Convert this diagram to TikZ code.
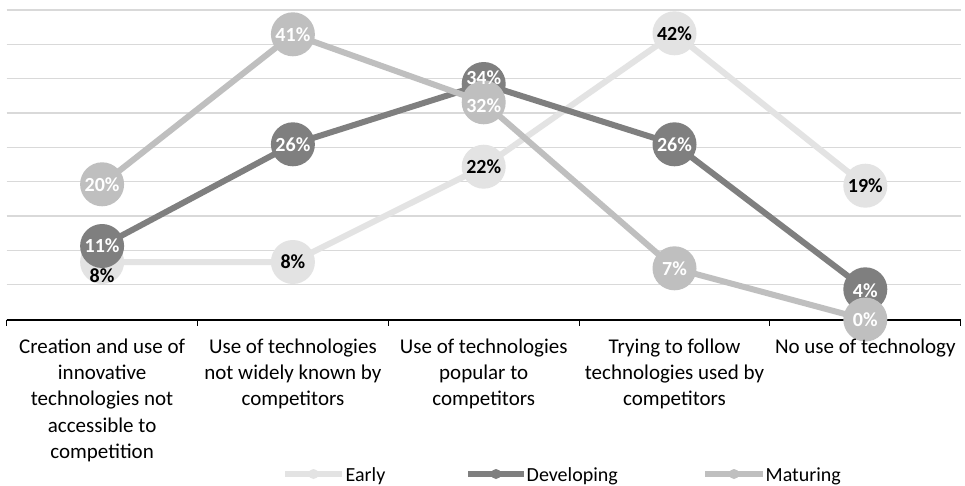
\documentclass[tikz,border=0pt]{standalone}
\usepackage{fontspec}
\setmainfont{Carlito}
\definecolor{earlyc}{HTML}{E3E3E3}
\definecolor{devc}{HTML}{7F7F7F}
\definecolor{matc}{HTML}{BFBFBF}
\definecolor{gridc}{HTML}{D9D9D9}
\begin{document}
\begin{tikzpicture}[x=1pt,y=-1pt,
  gridline/.style={draw=gridc, line width=1.3pt},
  axisline/.style={draw=black, line width=2pt},
  tickline/.style={draw=black, line width=1pt},
  ser/.style={line width=6pt, line join=round},
  dot/.style={circle, minimum size=44pt, inner sep=0pt},
  lab/.style={font=\bfseries\fontsize{20}{24}\selectfont, inner sep=0pt},
  cat/.style={font=\fontsize{21}{26.3}\selectfont, align=center, anchor=base, inner sep=0pt},
  leg/.style={font=\fontsize{20}{24}\selectfont, anchor=base west, inner sep=0pt},
  legdot/.style={circle, minimum size=10pt, inner sep=0pt}]
\useasboundingbox (0,0) rectangle (965,485);
\fill[white] (0,0) rectangle (965,485);
% gridlines
\foreach \yy in {10,44.33,78.67,113,147.33,181.67,216,250.33,284.67}
  \draw[gridline] (6.7,\yy) -- (960.7,\yy);
% axis
\coordinate (ax0) at (6.7,319.5);
\coordinate (ax1) at (960.7,319.5);
\draw[axisline] (ax0) -- (ax1);
\foreach \xx in {6.7,197.5,388.3,579.1,769.9,960.7}
  \draw[tickline] (\xx,319.5) -- (\xx,326);
% coordinates
\coordinate (e1) at (102.1,262);
\coordinate (e2) at (292.9,262);
\coordinate (e3) at (483.7,166.7);
\coordinate (e4) at (674.5,33.3);
\coordinate (e5) at (865.3,185.7);
\coordinate (d1) at (102.1,246);
\coordinate (d2) at (292.9,144.3);
\coordinate (d3) at (483.7,84);
\coordinate (d4) at (674.5,144.3);
\coordinate (d5) at (865.3,289.3);
\coordinate (m1) at (102.1,184.3);
\coordinate (m2) at (292.9,34.3);
\coordinate (m3) at (483.7,102.3);
\coordinate (m4) at (674.5,268.3);
\coordinate (m5) at (865.3,319.5);
% Early
\draw[ser, earlyc] (e1) -- (e2) -- (e3) -- (e4) -- (e5);
\foreach \n in {e1,e2,e3,e4,e5} \node[dot, fill=earlyc] (\n c) at (\n) {};
% Developing
\draw[ser, devc] (d1) -- (d2) -- (d3) -- (d4) -- (d5);
\foreach \n in {d1,d2,d3,d4,d5} \node[dot, fill=devc] (\n c) at (\n) {};
% Maturing
\draw[ser, matc] (m1) -- (m2) -- (m3) -- (m4) -- (m5);
\foreach \n in {m1,m2,m3,m4,m5} \node[dot, fill=matc] (\n c) at (\n) {};
% labels
\node[lab, text=black] (le1) at (102.1,276) {8\%};
\node[lab, text=black] (le2) at (e2) {8\%};
\node[lab, text=black] (le3) at (e3) {22\%};
\node[lab, text=black] (le4) at (e4) {42\%};
\node[lab, text=black] (le5) at (e5) {19\%};
\node[lab, text=white] (ld1) at (d1) {11\%};
\node[lab, text=white] (ld2) at (d2) {26\%};
\node[lab, text=white] (ld3) at (483.7,77.7) {34\%};
\node[lab, text=white] (ld4) at (d4) {26\%};
\node[lab, text=white] (ld5) at (865.3,291) {4\%};
\node[lab, text=white] (lm1) at (m1) {20\%};
\node[lab, text=white] (lm2) at (m2) {41\%};
\node[lab, text=white] (lm3) at (483.7,105.3) {32\%};
\node[lab, text=white] (lm4) at (m4) {7\%};
\node[lab, text=white] (lm5) at (865.3,320) {0\%};
% category labels (base = baseline of last line)
\node[cat] (c1) at (102.1,458.5) {Creation and use of\\innovative\\technologies not\\accessible to\\competition};
\node[cat] (c2) at (292.9,405.9) {Use of technologies\\not widely known by\\competitors};
\node[cat] (c3) at (483.7,405.9) {Use of technologies\\popular to\\competitors};
\node[cat] (c4) at (674.5,405.9) {Trying to follow\\technologies used by\\competitors};
\node[cat] (c5) at (865.3,353.3) {No use of technology};
% legend
\coordinate (la0) at (285,474); \coordinate (la1) at (342,474);
\draw[ser, earlyc, line width=5.5pt] (la0) -- (la1);
\node[legdot, fill=earlyc] (lad) at (313.5,474) {};
\node[leg] (lat) at (345.5,481) {Early};
\coordinate (lb0) at (468,474); \coordinate (lb1) at (524,474);
\draw[ser, devc, line width=5.5pt] (lb0) -- (lb1);
\node[legdot, fill=devc] (lbd) at (496,474) {};
\node[leg] (lbt) at (526.5,481) {Developing};
\coordinate (lc0) at (705,474); \coordinate (lc1) at (763,474);
\draw[ser, matc, line width=5.5pt] (lc0) -- (lc1);
\node[legdot, fill=matc] (lcd) at (734,474) {};
\node[leg] (lct) at (765.5,481) {Maturing};
\end{tikzpicture}
\end{document}
